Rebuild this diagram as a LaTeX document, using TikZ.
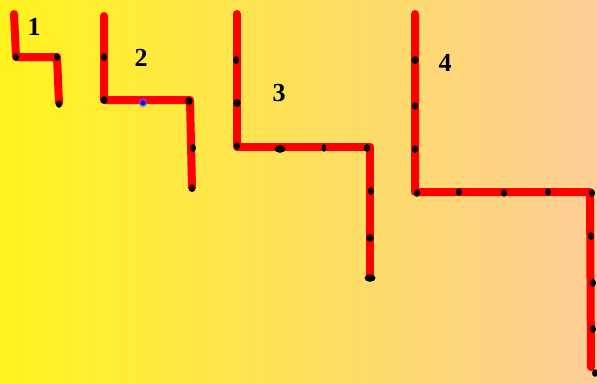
\documentclass[tikz,border=0pt]{standalone}
\usepackage{fontspec}
\setmainfont{Liberation Serif}
\begin{document}
\begin{tikzpicture}[x=1pt,y=-1pt,
  wire/.style={red,line width=8pt,line cap=round,line join=round},
  num/.style={font=\fontsize{26}{30}\selectfont\bfseries,inner sep=0pt}]
% background
\shade[left color={rgb,255:red,255;green,243;blue,30},right color={rgb,255:red,253;green,206;blue,152}]
  (0,0) rectangle (597,383);
\useasboundingbox (0,0) rectangle (597,383);
% black marker on a path: optional half-width, then x and y
\newcommand{\pt}[3][3]{\fill[black] (#2,#3) ellipse [x radius=#1, y radius=3.8];}
% step 1
\draw[wire] (14,14) -- (16,57) -- (57,57) -- (59,103);
\pt{16}{57}\pt{57}{57}\pt{59}{104}
\node[num] (n1) at (34,27) {1};
% step 2
\draw[wire] (104,16) -- (104,100) -- (190,100) -- (192,188);
\pt{104}{57}\pt[3.6]{104}{100}\pt[3.6]{189}{101}\pt{193}{148}\pt{192}{188}
\fill[blue!60,opacity=0.6] (143,103) circle (4.5);
\fill[blue] (143,103) circle (2.6);
\node[num] (n2) at (141,58) {2};
% step 3
\draw[wire] (237,14) -- (237,147) -- (370,147) -- (370,276);
\pt{236}{60}\pt[3.8]{237}{103}\pt{237}{146}\pt[5.5]{280}{149}\pt[2.3]{324}{148}\pt[3.5]{367}{148}
\pt{371}{191}\pt[4]{370}{238}\pt[5.5]{370}{278}
\node[num] (n3) at (279,93) {3};
% step 4
\draw[wire] (415,14) -- (415,192) -- (590,192) -- (591,367);
\pt[3.6]{415}{60}\pt{415}{106}\pt{415}{149}\pt{417}{193}\pt{459}{192}\pt{504}{193}\pt{548}{192}\pt{592}{193}
\pt{591}{236}\pt{593}{283}\pt{593}{329}\pt{595}{373}
\node[num] (n4) at (445,63) {4};
\end{tikzpicture}
\end{document}
